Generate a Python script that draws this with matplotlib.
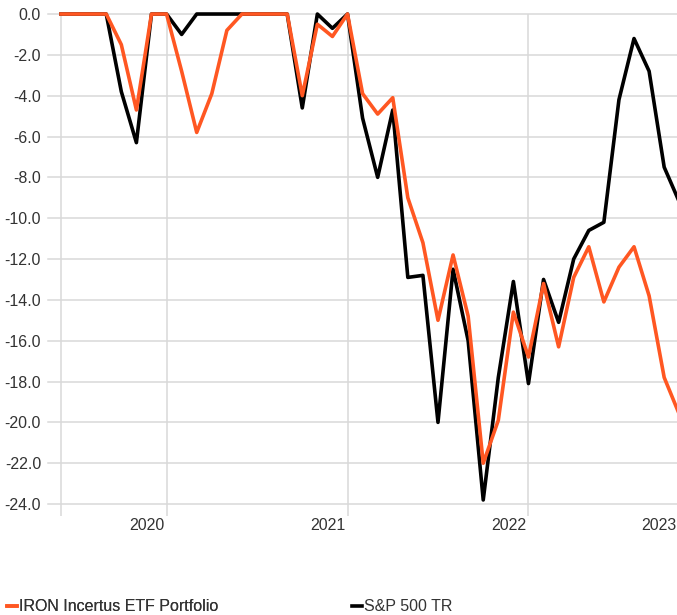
import matplotlib
matplotlib.use("Agg")
import matplotlib.pyplot as plt
import numpy as np
import pandas as pd

# monthly drawdown (%), Jun 2019 .. Nov 2022
months = pd.period_range("2019-06", "2022-11", freq="M")
iron = [0, 0, 0, 0, -1.5, -4.7, 0, 0, -2.8, -5.8, -3.9, -0.8,
        0, 0, 0, 0, -4.0, -0.5, -1.1, 0, -3.9, -4.9, -4.1, -9.0,
        -11.2, -15.0, -11.8, -14.8, -22.0, -19.9, -14.6, -16.8, -13.2, -16.3,
        -12.9, -11.4, -14.1, -12.4, -11.4, -13.8, -17.8, -19.6]
sp500 = [0, 0, 0, 0, -3.8, -6.3, 0, 0, -1.0, 0, 0, 0,
         0, 0, 0, 0, -4.6, 0, -0.7, 0, -5.1, -8.0, -4.7, -12.9,
         -12.8, -20.0, -12.5, -16.0, -23.8, -17.8, -13.1, -18.1, -13.0, -15.1,
         -12.0, -10.6, -10.2, -4.2, -1.2, -2.8, -7.5, -9.2]
years = ["2020", "2021", "2022", "2023"]
y_ticks = np.arange(0, -25, -2.0)

orange = "#ff5722"
grid_c = "#d9d9d9"
text_c = "#333333"

plt.rcParams["font.family"] = ["Liberation Sans", "DejaVu Sans"]
plt.rcParams["font.size"] = 11.5

fig = plt.figure(figsize=(6.77, 6.15), dpi=100)
ax = fig.add_axes([0.0709, 0.1615, 0.9291, 0.8157])

x = np.arange(len(months))
ax.plot(x, sp500, color="black", lw=2.6, clip_on=False, zorder=3)
ax.plot(x, iron, color=orange, lw=2.6, clip_on=False, zorder=4)

ax.set_xlim(-0.862, 40.85)
ax.set_ylim(-24.57, 0)

# gridlines
for v in y_ticks:
    ax.axhline(v, color=grid_c, lw=1.1, zorder=1, clip_on=False)
jan = [i for i, m in enumerate(months) if m.month == 1]
for xi in [0] + jan:
    ax.axvline(xi, color=grid_c, lw=1.1, zorder=1)

ax.set_yticks(y_ticks)
ax.set_yticklabels([f"{v:.1f}" for v in y_ticks])
# year labels sit a little left of the january gridline; last one is pushed inside
year_pos = [j - 1.3 for j in jan] + [40.8]
ax.set_xticks(year_pos)
ax.set_xticklabels(years)
ax.tick_params(axis="both", length=0, colors=text_c)
ax.tick_params(axis="y", pad=5)
ax.tick_params(axis="x", pad=1.5)
ax.get_xticklabels()[-1].set_horizontalalignment("right")
for s in ax.spines.values():
    s.set_visible(False)

h1, = ax.plot([], [], color=orange, lw=2.6)
h2, = ax.plot([], [], color="black", lw=2.6)
kw = dict(loc="center left", frameon=False, borderpad=0, borderaxespad=0,
          handlelength=0.6, handletextpad=0.15, fontsize=11.5, labelcolor=text_c)
leg1 = fig.legend([h1], ["IRON Incertus ETF Portfolio"], bbox_to_anchor=(0.0103, 0.0135), **kw)
fig.add_artist(leg1)
fig.legend([h2], ["S&P 500 TR"], bbox_to_anchor=(0.52, 0.0135), **kw)

fig.savefig("out.png", dpi=100)
